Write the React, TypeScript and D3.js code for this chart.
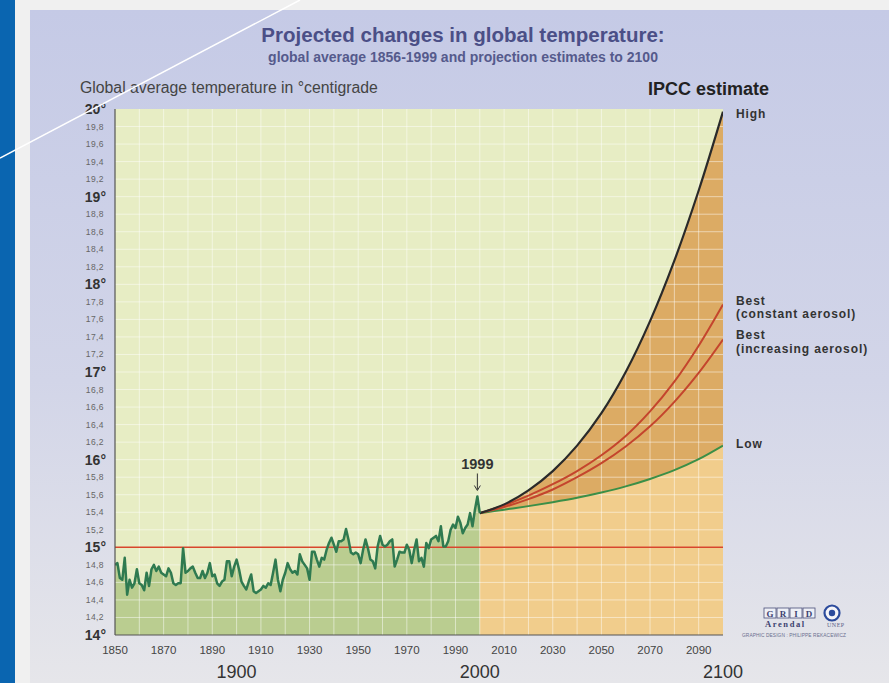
import React from "react";
import * as d3 from "d3";

// ---------- data ----------
const HIST_START = 1850;
// annual global average temperature (°C), 1850–2000
const histTemps = [
  14.8, 14.82, 14.65, 14.63, 14.88, 14.46, 14.63, 14.54, 14.59, 14.75, 14.59,
  14.57, 14.51, 14.71, 14.56, 14.75, 14.8, 14.73, 14.78, 14.71, 14.69,
  14.67, 14.76, 14.71, 14.59, 14.57, 14.59, 14.59, 14.99, 14.71, 14.73,
  14.76, 14.78, 14.71, 14.65, 14.65, 14.73, 14.65, 14.71, 14.82, 14.67,
  14.69, 14.59, 14.56, 14.61, 14.63, 14.84, 14.84, 14.67, 14.78, 14.86,
  14.75, 14.61, 14.56, 14.52, 14.61, 14.69, 14.5, 14.48, 14.5, 14.52,
  14.56, 14.54, 14.59, 14.57, 14.71, 14.86, 14.63, 14.5, 14.63, 14.71,
  14.82, 14.75, 14.71, 14.73, 14.69, 14.92, 14.84, 14.8, 14.76, 14.63,
  14.95, 14.95, 14.86, 14.78, 14.88, 14.86, 14.97, 15.05, 15.11, 15.03,
  14.95, 15.07, 15.07, 15.09, 15.21, 15.09, 14.94, 14.92, 14.94, 14.92,
  14.82, 14.97, 15.09, 14.99, 14.86, 14.84, 14.76, 15.01, 15.13, 15.03,
  15.01, 15.03, 15.07, 15.09, 14.78, 14.86, 14.95, 14.94, 14.94, 15.03,
  14.97, 14.82, 14.97, 15.09, 14.84, 14.88, 14.78, 15.05, 14.99, 15.09,
  15.11, 15.13, 15.07, 15.24, 15.01, 15.01, 15.07, 15.2, 15.26, 15.22,
  15.35, 15.28, 15.16, 15.22, 15.26, 15.39, 15.24, 15.43, 15.58, 15.39,
];

const projYears = [2000, 2010, 2020, 2030, 2040, 2050, 2060, 2070, 2080, 2090, 2100];
const highTemps = [15.39, 15.49, 15.65, 15.87, 16.16, 16.53, 17.0, 17.58, 18.27, 19.07, 19.97];
const bestConstTemps = [15.39, 15.48, 15.59, 15.72, 15.87, 16.05, 16.27, 16.55, 16.89, 17.3, 17.77];
const bestIncTemps = [15.39, 15.46, 15.55, 15.66, 15.8, 15.96, 16.15, 16.38, 16.66, 16.99, 17.37];
const lowTemps = [15.39, 15.43, 15.47, 15.515, 15.565, 15.625, 15.695, 15.78, 15.88, 16.005, 16.16];

const yMajorTicks = [14, 15, 16, 17, 18, 19, 20];
const yMinorTicks = [
  14.2, 14.4, 14.6, 14.8, 15.2, 15.4, 15.6, 15.8, 16.2, 16.4, 16.6, 16.8,
  17.2, 17.4, 17.6, 17.8, 18.2, 18.4, 18.6, 18.8, 19.2, 19.4, 19.6, 19.8,
];
const xTicks = [1850, 1870, 1890, 1910, 1930, 1950, 1970, 1990, 2010, 2030, 2050, 2070, 2090];
const xCenturyTicks = [1900, 2000, 2100];
const gridYears = d3.range(1860, 2100, 10);
const gridTemps = d3.range(14.2, 19.9, 0.2);

const REFERENCE_TEMP = 15;
const PEAK_YEAR = 1999;

// ---------- component ----------
const W = 889;
const H = 683;
const FONT = "'Liberation Sans', Arial, Helvetica, sans-serif";
const SERIF = "'Liberation Serif', 'DejaVu Serif', serif";

type P = { year: number; t: number };

export default function App() {
  const x = d3.scaleLinear().domain([1850, 2100]).range([115, 723]);
  const y = d3.scaleLinear().domain([14, 20]).range([635, 109]);

  const hist: P[] = histTemps.map((t, i) => ({ year: HIST_START + i, t }));
  const proj = (arr: number[]): P[] => projYears.map((yr, i) => ({ year: yr, t: arr[i] }));
  const high = proj(highTemps);
  const bestC = proj(bestConstTemps);
  const bestI = proj(bestIncTemps);
  const low = proj(lowTemps);

  const curve = d3.curveCatmullRom.alpha(0.5);

  const histArea = d3
    .area<P>()
    .x((d) => x(d.year))
    .y0(y(14))
    .y1((d) => y(d.t))(hist) as string;
  const histLine = d3
    .line<P>()
    .x((d) => x(d.year))
    .y((d) => y(d.t))(hist) as string;

  const curveLine = d3
    .line<P>()
    .x((d) => x(d.year))
    .y((d) => y(d.t))
    .curve(curve);

  const lowArea = d3
    .area<P>()
    .x((d) => x(d.year))
    .y0(y(14))
    .y1((d) => y(d.t))
    .curve(curve)(low) as string;

  const bandData = projYears.map((yr, i) => ({ year: yr, lo: lowTemps[i], hi: highTemps[i] }));
  const bandArea = d3
    .area<{ year: number; lo: number; hi: number }>()
    .x((d) => x(d.year))
    .y0((d) => y(d.lo))
    .y1((d) => y(d.hi))
    .curve(curve)(bandData) as string;

  const peak = hist.find((d) => d.year === PEAK_YEAR)!;
  const px = x(peak.year);
  const py = y(peak.t);

  const left = x(1850);
  const right = x(2100);
  const top = y(20);
  const bottom = y(14);

  const labelX = 736;

  return (
    <svg
      width={W}
      height={H}
      viewBox={`0 0 ${W} ${H}`}
      style={{ position: "absolute", left: 0, top: 0, display: "block" }}
      fontFamily={FONT}
    >
      <defs>
        <linearGradient id="panelGrad" x1="0" y1="0" x2="0" y2="1">
          <stop offset="0" stopColor="#c5cae6" />
          <stop offset="0.55" stopColor="#d2d5e8" />
          <stop offset="1" stopColor="#e6e6ea" />
        </linearGradient>
        <clipPath id="plotClip">
          <rect x={left} y={top} width={right - left} height={bottom - top} />
        </clipPath>
      </defs>

      {/* page background */}
      <rect x={0} y={0} width={W} height={H} fill="#f0f0f0" />
      <rect x={30} y={10} width={W - 30} height={H - 10} fill="url(#panelGrad)" />
      <rect x={0} y={0} width={15} height={H} fill="#0a65b0" />

      {/* titles */}
      <text x={463} y={42} textAnchor="middle" fontSize={20.5} fontWeight="bold" fill="#4b4f87">
        Projected changes in global temperature:
      </text>
      <text x={463} y={62} textAnchor="middle" fontSize={14} fontWeight="bold" fill="#555a8c">
        global average 1856-1999 and projection estimates to 2100
      </text>
      <text x={80} y={93} fontSize={15.8} fill="#444">
        Global average temperature in °centigrade
      </text>
      <text x={648} y={95} fontSize={18} fontWeight="bold" fill="#222">
        IPCC estimate
      </text>

      {/* plot background */}
      <g clipPath="url(#plotClip)">
        <rect x={left} y={top} width={right - left} height={bottom - top} fill="#e7edc4" />
        <path d={histArea} fill="#bacd90" />
        <path d={lowArea} fill="#f1cd8c" />
        <path d={bandArea} fill="#dcab64" />
        {/* grid */}
        {gridYears.map((yr) => (
          <line
            key={`gx${yr}`}
            x1={x(yr)}
            x2={x(yr)}
            y1={top}
            y2={bottom}
            stroke="#ffffff"
            strokeOpacity={0.55}
            strokeWidth={0.9}
          />
        ))}
        {gridTemps.map((t) => (
          <line
            key={`gy${t.toFixed(1)}`}
            x1={left}
            x2={right}
            y1={y(t)}
            y2={y(t)}
            stroke="#ffffff"
            strokeOpacity={0.55}
            strokeWidth={0.9}
          />
        ))}
        {/* 15° reference */}
        <line
          x1={left}
          x2={right}
          y1={y(REFERENCE_TEMP)}
          y2={y(REFERENCE_TEMP)}
          stroke="#d8462c"
          strokeWidth={1.5}
        />
        {/* projections */}
        <path d={curveLine(low) as string} fill="none" stroke="#3b8f47" strokeWidth={2} />
        <path d={curveLine(bestI) as string} fill="none" stroke="#c4452d" strokeWidth={2} />
        <path d={curveLine(bestC) as string} fill="none" stroke="#c4452d" strokeWidth={2} />
        <path d={curveLine(high) as string} fill="none" stroke="#2a2a2a" strokeWidth={2.2} />
        {/* history */}
        <path d={histLine} fill="none" stroke="#2f7a50" strokeWidth={2.5} strokeLinejoin="round" />
      </g>

      {/* axes lines */}
      <line x1={left} x2={left} y1={top} y2={bottom} stroke="#555" strokeWidth={1.2} />
      <line x1={left} x2={right} y1={bottom} y2={bottom} stroke="#555" strokeWidth={1.2} />

      {/* y labels */}
      {yMajorTicks.map((t) => (
        <text
          key={`ym${t}`}
          x={106}
          y={y(t) + 5}
          textAnchor="end"
          fontSize={14}
          fontWeight="bold"
          fill="#333"
        >
          {`${t}°`}
        </text>
      ))}
      {yMinorTicks.map((t) => (
        <text
          key={`yn${t}`}
          x={104}
          y={y(t) + 3}
          textAnchor="end"
          fontSize={8.5}
          fill="#666"
          letterSpacing={0.4}
        >
          {t.toFixed(1).replace(".", ",")}
        </text>
      ))}

      {/* x labels */}
      {xTicks.map((yr) => (
        <text key={`xt${yr}`} x={x(yr)} y={654} textAnchor="middle" fontSize={11.5} fill="#444">
          {yr}
        </text>
      ))}
      {xCenturyTicks.map((yr) => (
        <text key={`xc${yr}`} x={x(yr)} y={678} textAnchor="middle" fontSize={18} fill="#333">
          {yr}
        </text>
      ))}

      {/* 1999 annotation */}
      <text x={px} y={py - 27} textAnchor="middle" fontSize={14.5} fontWeight="bold" fill="#333">
        1999
      </text>
      <line x1={px} x2={px} y1={py - 23} y2={py - 7} stroke="#333" strokeWidth={1} />
      <path
        d={`M${px - 3},${py - 11} L${px},${py - 6} L${px + 3},${py - 11}`}
        fill="none"
        stroke="#333"
        strokeWidth={1}
      />

      {/* scenario labels */}
      <g fontSize={12} fontWeight="bold" fill="#333" letterSpacing={0.9}>
        <text x={labelX} y={y(highTemps[10]) + 6}>High</text>
        <text x={labelX} y={y(bestConstTemps[10]) + 0.5}>Best</text>
        <text x={labelX} y={y(bestConstTemps[10]) + 14}>(constant aerosol)</text>
        <text x={labelX} y={y(bestIncTemps[10]) - 0.5}>Best</text>
        <text x={labelX} y={y(bestIncTemps[10]) + 13}>(increasing aerosol)</text>
        <text x={labelX} y={y(lowTemps[10]) + 2}>Low</text>
      </g>

      {/* logo */}
      <g>
        {["G", "R", "I", "D"].map((c, i) => (
          <g key={c}>
            <rect
              x={764 + i * 13}
              y={608}
              width={12}
              height={10}
              fill="#eef0f6"
              stroke="#4a4f7a"
              strokeWidth={0.8}
            />
            <text
              x={770 + i * 13}
              y={616.5}
              textAnchor="middle"
              fontSize={9}
              fontWeight="bold"
              fontFamily={SERIF}
              fill="#3d4270"
            >
              {c}
            </text>
          </g>
        ))}
        <text x={765} y={627} fontSize={8.5} fontWeight="bold" letterSpacing={1.6} fontFamily={SERIF} fill="#3d4270">
          Arendal
        </text>
        <circle cx={832} cy={613} r={7.5} fill="#f4f4f8" stroke="#2c4b9c" strokeWidth={2.2} />
        <circle cx={832} cy={613} r={3.2} fill="#2c4b9c" />
        <text x={827} y={627} fontSize={6} fontFamily={SERIF} fill="#5a5f8a" letterSpacing={0.5}>
          UNEP
        </text>
        <text x={742} y={637} fontSize={4.8} fill="#6a6f8f" letterSpacing={0.1}>
          GRAPHIC DESIGN : PHILIPPE REKACEWICZ
        </text>
      </g>

      {/* diagonal white slide line */}
      <line x1={0} y1={158} x2={300} y2={0} stroke="#ffffff" strokeWidth={1.5} />
    </svg>
  );
}
